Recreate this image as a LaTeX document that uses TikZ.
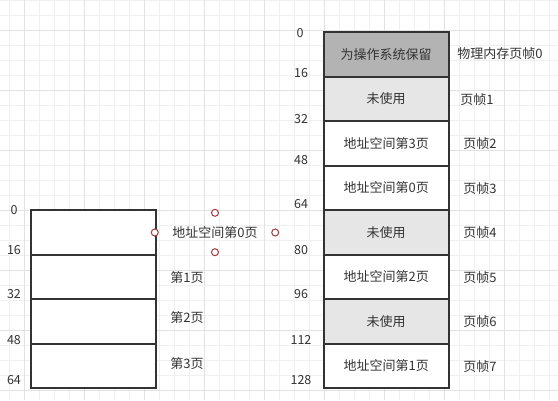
\documentclass[tikz,border=0pt]{standalone}
\usepackage{fontspec}
\setmainfont{Noto Sans CJK SC}
\definecolor{linec}{HTML}{333333}
\definecolor{txt}{HTML}{333333}
\definecolor{gridminor}{HTML}{F0F0F0}
\definecolor{gridmajor}{HTML}{E2E2E2}
\definecolor{osfill}{HTML}{B3B3B3}
\definecolor{freefill}{HTML}{E6E6E6}
\definecolor{handle}{HTML}{A33A3A}
\begin{document}
\begin{tikzpicture}[x=1pt,y=-1pt,
  minorline/.style={draw=gridminor, line width=1pt},
  majorline/.style={draw=gridmajor, line width=1pt},
  cell/.style={draw=linec, fill=white, line width=2pt, minimum width=125pt, minimum height=44.5pt, inner sep=0pt, anchor=north west, text=txt, font=\fontsize{13}{15}\selectfont},
  oscell/.style={cell, fill=osfill},
  freecell/.style={cell, fill=freefill},
  lbl/.style={text=txt, inner sep=0pt, font=\fontsize{13}{15}\selectfont},
  addr/.style={text=txt, inner sep=0pt, font=\fontsize{12.5}{15}\selectfont},
  handlecirc/.style={draw=handle, fill=white, line width=1pt, circle, inner sep=0pt, minimum size=7pt}
]
\useasboundingbox (0,0) rectangle (558,400);
\fill[white] (0,0) rectangle (558,400);
% grid
\foreach \i in {0,...,36} \draw[minorline] ({9.3+15*\i},0) -- ({9.3+15*\i},400);
\foreach \j in {0,...,26} \draw[minorline] (0,{15*\j}) -- (558,{15*\j});
\foreach \i in {0,...,8} \draw[majorline] ({24.3+60*\i},0) -- ({24.3+60*\i},400);
\foreach \j in {0,...,6} \draw[majorline] (0,{30+60*\j}) -- (558,{30+60*\j});

% physical memory
\node[oscell]   (f0) at (322.7,31)    {为操作系统保留};
\node[freecell] (f1) at (322.7,75.5)  {未使用};
\node[cell]     (f2) at (322.7,120)   {地址空间第3页};
\node[cell]     (f3) at (322.7,164.5) {地址空间第0页};
\node[freecell] (f4) at (322.7,209)   {未使用};
\node[cell]     (f5) at (322.7,253.5) {地址空间第2页};
\node[freecell] (f6) at (322.7,298)   {未使用};
\node[cell]     (f7) at (322.7,342.5) {地址空间第1页};

% physical addresses
\node[addr] (pa0) at (300,33) {0};
\node[addr] (pa1) at (301,73) {16};
\node[addr] (pa2) at (301,119) {32};
\node[addr] (pa3) at (301,160) {48};
\node[addr] (pa4) at (301,204) {64};
\node[addr] (pa5) at (301,250) {80};
\node[addr] (pa6) at (301,294) {96};
\node[addr] (pa7) at (301,340) {112};
\node[addr] (pa8) at (301,380) {128};

% frame labels
\node[lbl] (fl0) at (500,54) {物理内存页帧0};
\node[lbl] (fl1) at (477,100) {页帧1};
\node[lbl] (fl2) at (480,144) {页帧2};
\node[lbl] (fl3) at (480,189) {页帧3};
\node[lbl] (fl4) at (480,233) {页帧4};
\node[lbl] (fl5) at (480,278) {页帧5};
\node[lbl] (fl6) at (480,322) {页帧6};
\node[lbl] (fl7) at (480,367) {页帧7};

% address space
\node[cell] (p0) at (30,209)   {};
\node[cell] (p1) at (30,253.5) {};
\node[cell] (p2) at (30,298)   {};
\node[cell] (p3) at (30,342.5) {};

\node[addr] (va0) at (14,210) {0};
\node[addr] (va1) at (14,250) {16};
\node[addr] (va2) at (14,294) {32};
\node[addr] (va3) at (14,340) {48};
\node[addr] (va4) at (14,380) {64};

\node[lbl, minimum width=120pt, minimum height=39pt] (pl0) at (215,232.5) {地址空间第0页};
\node[lbl] (pl1) at (187,278) {第1页};
\node[lbl] (pl2) at (187,318) {第2页};
\node[lbl] (pl3) at (187,364) {第3页};

% selection handles
\node[handlecirc] (h1) at (pl0.north) {};
\node[handlecirc] (h2) at (pl0.south) {};
\node[handlecirc] (h3) at (pl0.west) {};
\node[handlecirc] (h4) at (pl0.east) {};
\end{tikzpicture}
\end{document}
